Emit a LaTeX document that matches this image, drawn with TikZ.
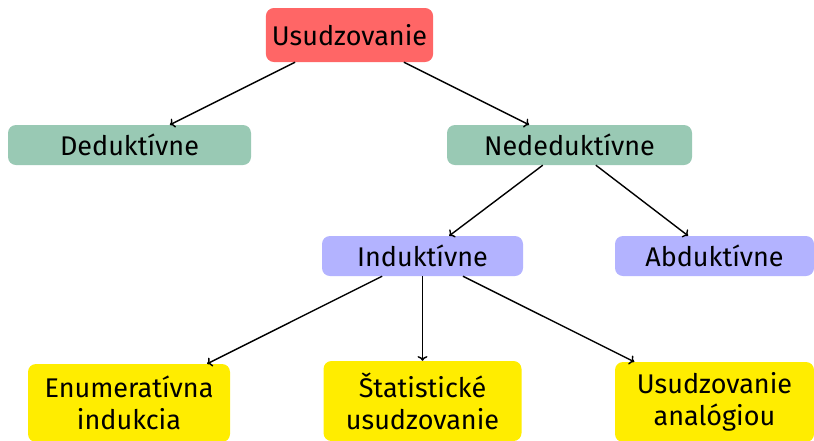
\documentclass[tikz,border=0pt]{standalone}
\usepackage{fontspec}
\setmainfont{Fira Sans}
\usetikzlibrary{arrows.meta, positioning}
\definecolor{rootred}{RGB}{255,102,102}
\definecolor{levelgreen}{RGB}{153,201,180}
\definecolor{levelblue}{RGB}{179,179,255}
\definecolor{levelyellow}{RGB}{255,237,0}

\begin{document}
\begin{tikzpicture}[x=1pt, y=-1pt,
  box/.style={rounded corners=8pt, minimum height=40pt, inner sep=6pt,
    font=\fontsize{27}{32}\selectfont, align=center},
  link/.style={->, line width=1.4pt}]
  \useasboundingbox (0,0) rectangle (814,440);

  % Root
  \node[box, fill=rootred, minimum width=165pt, minimum height=54pt] (usud) at (349.5,35) {Usudzovanie};

  % Second level
  \node[box, fill=levelgreen, minimum width=243pt] (ded) at (129.5,145) {Deduktívne};
  \node[box, fill=levelgreen, minimum width=245pt] (nonded) at (569.5,145) {Nededuktívne};

  % Third level
  \node[box, fill=levelblue, minimum width=201pt] (ind) at (422.5,256) {Induktívne};
  \node[box, fill=levelblue, minimum width=199pt] (abd) at (714.5,256) {Abduktívne};

  % Leaves
  \node[box, fill=levelyellow, minimum width=202pt, minimum height=78pt] (enum) at (129,403) {Enumeratívna\\indukcia};
  \node[box, fill=levelyellow, minimum width=198pt, minimum height=80pt] (stat) at (422.5,401) {Štatistické\\usudzovanie};
  \node[box, fill=levelyellow, minimum width=199pt, minimum height=80pt] (anal) at (714.5,402) {Usudzovanie\\analógiou};

  % Connectors
  \draw[link] (usud) -- (ded);
  \draw[link] (usud) -- (nonded);
  \draw[link] (nonded) -- (ind);
  \draw[link] (nonded) -- (abd);
  \draw[link] (ind) -- (enum);
  \draw[link] (ind) -- (stat);
  \draw[link] (ind) -- (anal);
\end{tikzpicture}
\end{document}
